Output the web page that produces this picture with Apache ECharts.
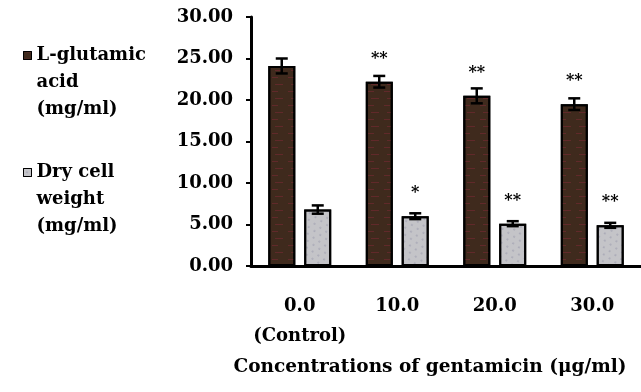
<!DOCTYPE html>
<html>
<head>
<meta charset="utf-8">
<script src="https://cdn.jsdelivr.net/npm/echarts@6/dist/echarts.min.js"></script>
<style>
  html, body { margin: 0; padding: 0; background: #fff; overflow: hidden; }
  #chart { width: 641px; height: 392px; }
</style>
</head>
<body>
<div id="chart"></div>
<script>
const categories = ['0.0\n(Control)', '10.0', '20.0', '30.0']
const glutamic = [24.1, 22.2, 20.5, 19.5]
const glutamicErr = [0.9, 0.7, 0.9, 0.7]
const dryWeight = [6.8, 6.0, 5.1, 4.9]
const dryWeightErr = [0.5, 0.35, 0.3, 0.3]
const glutamicSig = ['', '**', '**', '**']
const dryWeightSig = ['', '*', '**', '**']

const FONT = 'DejaVu Serif'
const BAR_W = 27
const OFFSET = 18

const chart = echarts.init(document.getElementById('chart'), null, { renderer: 'canvas' })

function errData(vals, errs) {
  return vals.map((v, i) => [i, v - errs[i], v + errs[i]])
}

function errRender(offset) {
  return function (params, api) {
    const lo = api.coord([api.value(0), api.value(1)])
    const hi = api.coord([api.value(0), api.value(2)])
    const x = lo[0] + offset
    const cap = 6
    const style = { stroke: '#000', lineWidth: 2.5 }
    return {
      type: 'group',
      children: [
        { type: 'line', shape: { x1: x, y1: lo[1], x2: x, y2: hi[1] }, style },
        { type: 'line', shape: { x1: x - cap, y1: hi[1], x2: x + cap, y2: hi[1] }, style },
        { type: 'line', shape: { x1: x - cap, y1: lo[1], x2: x + cap, y2: lo[1] }, style },
      ],
    }
  }
}

function sigLabel(sig) {
  return {
    show: true,
    position: 'top',
    distance: 15,
    color: '#000',
    fontFamily: FONT,
    fontWeight: 'bold',
    fontSize: 16,
    formatter: p => sig[p.dataIndex],
  }
}

chart.setOption({
  animation: false,
  aria: { enabled: true, decal: { show: true } },
  grid: { left: 251, right: -14, top: 17, bottom: 126 },
  legend: {
    orient: 'vertical',
    left: 18,
    top: -17,
    itemWidth: 8,
    itemHeight: 8,
    itemGap: -18,
    icon: 'rect',
    data: [
      { name: 'L-glutamic\nacid\n(mg/ml)', itemStyle: { borderColor: '#000', borderWidth: 1 } },
      { name: 'Dry cell\nweight\n(mg/ml)', itemStyle: { borderColor: '#000', borderWidth: 1 } },
    ],
    // two blank lines on top keep the first text line level with the icon
    formatter: name => ' \n \n' + name,
    textStyle: {
      fontFamily: FONT,
      fontWeight: 'bold',
      fontSize: 18,
      color: '#000',
      lineHeight: 27,
    },
  },
  xAxis: {
    type: 'category',
    data: categories,
    name: 'Concentrations of gentamicin (μg/ml)',
    nameLocation: 'middle',
    nameGap: 92,
    nameTextStyle: {
      fontFamily: FONT,
      fontWeight: 'bold',
      fontSize: 18.5,
      color: '#000',
      padding: [0, 32, 0, 0],
    },
    axisLine: { lineStyle: { color: '#000', width: 3 } },
    axisTick: { show: false },
    axisLabel: {
      interval: 0,
      fontFamily: FONT,
      fontWeight: 'bold',
      fontSize: 18,
      color: '#000',
      margin: 25,
      lineHeight: 30,
    },
  },
  yAxis: {
    type: 'value',
    min: 0,
    max: 30,
    interval: 5,
    axisLine: { show: true, lineStyle: { color: '#000', width: 3 } },
    axisTick: { show: true, length: 5, lineStyle: { color: '#000', width: 2 } },
    splitLine: { show: false },
    axisLabel: {
      fontFamily: FONT,
      fontWeight: 'bold',
      fontSize: 18,
      color: '#000',
      margin: 18,
      formatter: v => v.toFixed(2),
    },
  },
  series: [
    {
      name: 'L-glutamic\nacid\n(mg/ml)',
      type: 'bar',
      data: glutamic,
      barWidth: BAR_W,
      barGap: '33%',
      itemStyle: {
        color: '#3f2a1d',
        borderColor: '#000',
        borderWidth: 2,
        decal: {
          symbol: 'rect',
          symbolSize: 1,
          color: 'rgba(140, 40, 60, 0.45)',
          dashArrayX: [[6, 10], [0, 3, 8, 5]],
          dashArrayY: [1, 6],
          rotation: 0,
        },
      },
      label: sigLabel(glutamicSig),
    },
    {
      name: 'Dry cell\nweight\n(mg/ml)',
      type: 'bar',
      data: dryWeight,
      barWidth: BAR_W,
      itemStyle: {
        color: '#c4c4c8',
        borderColor: '#000',
        borderWidth: 2,
        decal: {
          symbol: 'circle',
          symbolSize: 0.6,
          color: 'rgba(30, 30, 90, 0.55)',
          dashArrayX: [[2, 5], [0, 4, 2, 1]],
          dashArrayY: [2, 4],
          rotation: 0.6,
        },
      },
      label: sigLabel(dryWeightSig),
    },
    {
      type: 'custom',
      renderItem: errRender(-OFFSET),
      data: errData(glutamic, glutamicErr),
      encode: { x: 0, y: [1, 2] },
      z: 5,
    },
    {
      type: 'custom',
      renderItem: errRender(OFFSET),
      data: errData(dryWeight, dryWeightErr),
      encode: { x: 0, y: [1, 2] },
      z: 5,
    },
  ],
})
</script>
</body>
</html>
